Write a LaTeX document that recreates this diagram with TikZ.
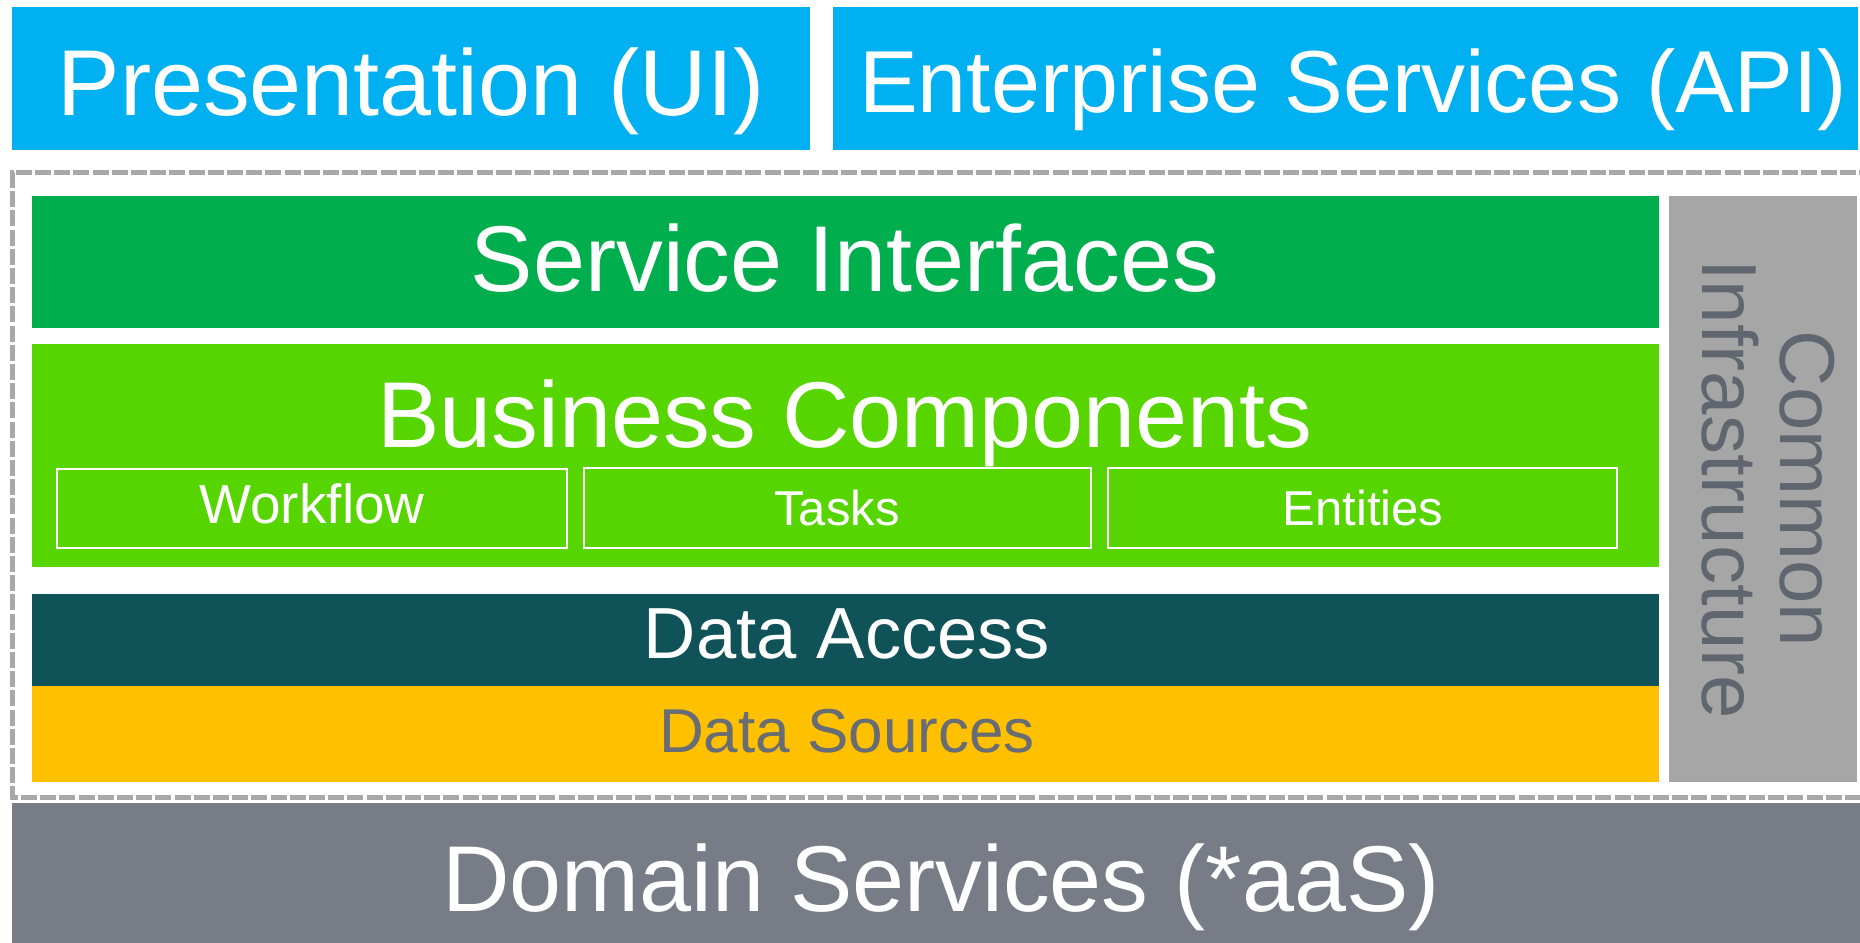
\documentclass[tikz,border=0pt]{standalone}
\usepackage{fontspec}
\setmainfont{Liberation Sans}
\usetikzlibrary{fit}
\definecolor{uiblue}{HTML}{00B0F0}
\definecolor{sigreen}{HTML}{00AE4E}
\definecolor{bcgreen}{HTML}{56D500}
\definecolor{dateal}{HTML}{0F5258}
\definecolor{dsyellow}{HTML}{FFC000}
\definecolor{cigray}{HTML}{A6A6A6}
\definecolor{citext}{HTML}{5F6670}
\definecolor{dsvgray}{HTML}{777C86}
\definecolor{dstext}{HTML}{686C74}
\definecolor{dashgray}{HTML}{A8A8A8}
\tikzset{
  layer/.style={inner sep=0pt, outer sep=0pt, draw=none},
  subbox/.style={inner sep=0pt, outer sep=0pt, draw=white, line width=0.6pt},
  lbl/.style={inner sep=0pt, outer sep=0pt, anchor=base, text=white},
  big/.style={font=\fontsize{46.75}{50}\selectfont},
}
\begin{document}
\begin{tikzpicture}[x=0.5pt,y=-0.5pt]
\useasboundingbox (0,0) rectangle (1860,943);
\clip (0,0) rectangle (1860,943);
\fill[white] (0,0) rectangle (1860,943);
% top row
\node[layer, fill=uiblue, fit={(12,7)(810,150)}] (pres) {};
\node[layer, fill=uiblue, fit={(833,7)(1858,150)}] (ent) {};
\node[lbl, big] (presT) at (411,115) {Presentation (UI)};
\node[lbl, font=\fontsize{44}{48}\selectfont] (entT) at (1353,112) {Enterprise Services (API)};
% dashed enclosure
\coordinate (dTR) at (1875,172);
\coordinate (dTL) at (12.5,172);
\coordinate (dBL) at (12.5,797);
\coordinate (dBR) at (1875,797);
\draw[dashgray, line width=2.5pt, dash pattern=on 8pt off 1.6pt] (dTR) -- (dTL) -- (dBL) -- (dBR);
% service interfaces
\node[layer, fill=sigreen, fit={(32,196)(1659,328)}] (si) {};
\node[lbl, big] (siT) at (845,291) {Service Interfaces};
% business components
\node[layer, fill=bcgreen, fit={(32,344)(1659,567)}] (bc) {};
\node[lbl, big] (bcT) at (845,447) {Business Components};
\node[subbox, fit={(57,469)(567,548)}] (wf) {};
\node[subbox, fit={(584,468)(1091,548)}] (tk) {};
\node[subbox, fit={(1108,468)(1617,548)}] (en) {};
\node[lbl, font=\fontsize{27.5}{29}\selectfont] (wfT) at (312,523) {Workflow};
\node[lbl, font=\fontsize{24.5}{26}\selectfont] (tkT) at (837,525) {Tasks};
\node[lbl, font=\fontsize{24.5}{26}\selectfont] (enT) at (1363,525) {Entities};
% data access / sources
\node[layer, fill=dateal, fit={(32,594)(1659,686)}] (da) {};
\node[layer, fill=dsyellow, fit={(32,686)(1659,782)}] (ds) {};
\node[lbl, font=\fontsize{36.2}{38}\selectfont] (daT) at (847,658) {Data Access};
\node[lbl, text=dstext, font=\fontsize{31}{33}\selectfont] (dsT) at (847,752) {Data Sources};
% common infrastructure
\node[layer, fill=cigray, fit={(1669,196)(1857,782)}] (ci) {};
\node[inner sep=0pt, rotate=-90, align=center, text=citext, font=\fontsize{39}{39}\selectfont] (ciT) at (1768,489) {Common\\Infrastructure};
% domain services
\node[layer, fill=dsvgray, fit={(12,803)(1862,945)}] (dom) {};
\node[lbl, font=\fontsize{46.75}{50}\selectfont] (domT) at (941,911) {Domain Services (*aaS)};
\end{tikzpicture}
\end{document}
